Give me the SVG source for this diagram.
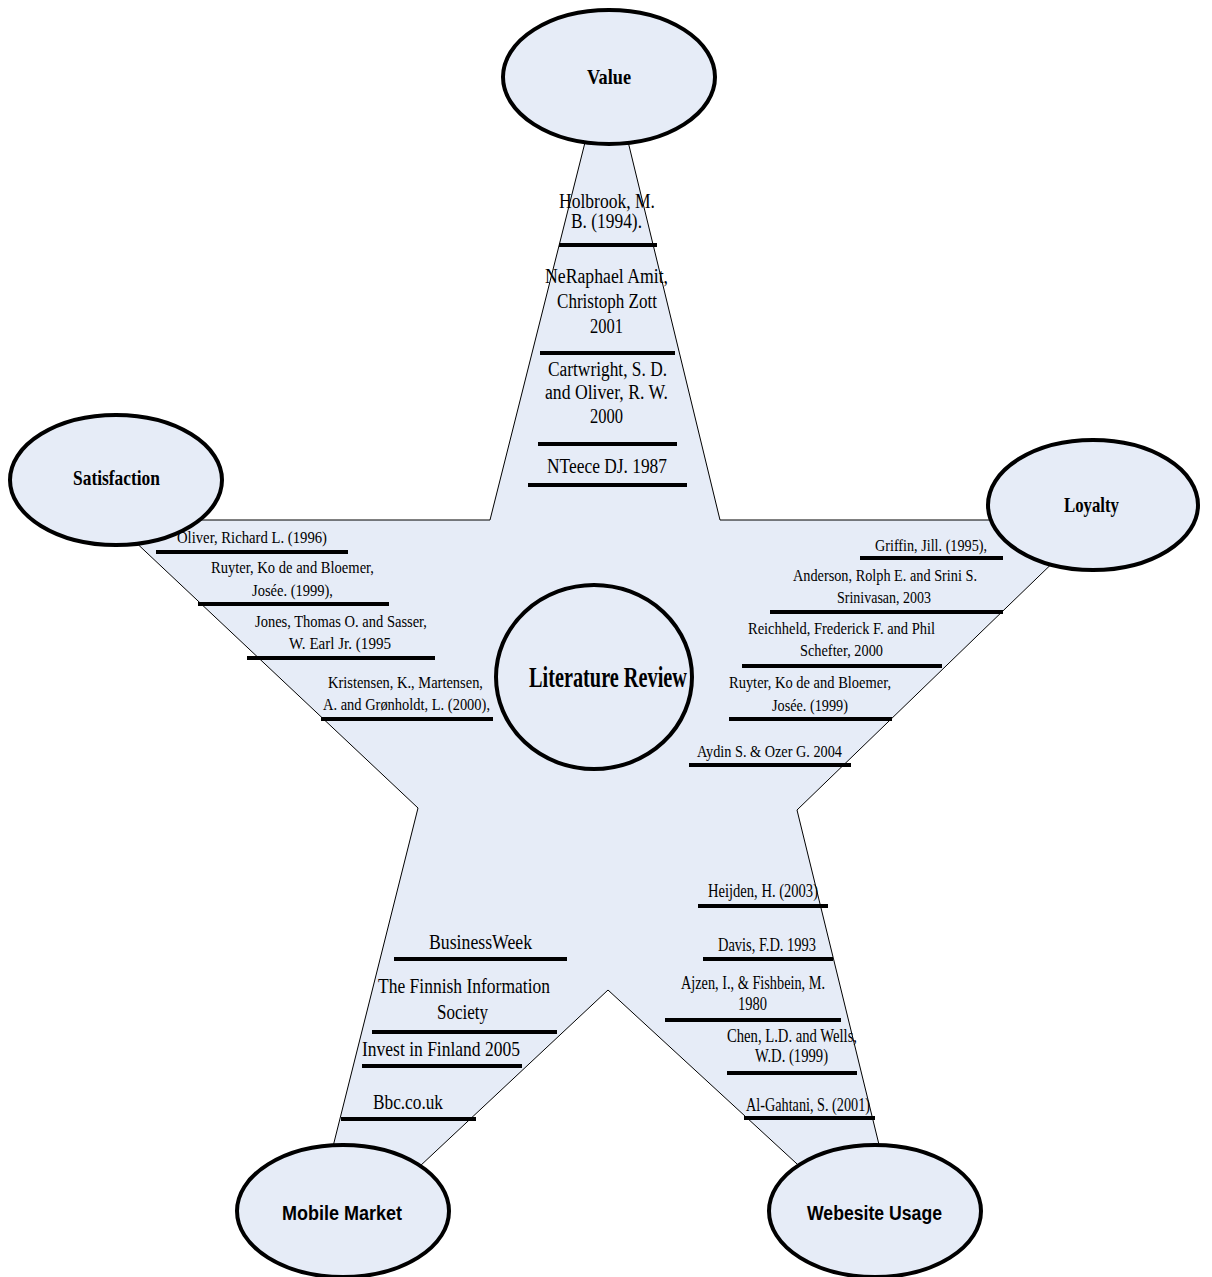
<svg xmlns="http://www.w3.org/2000/svg" width="1212" height="1277" viewBox="0 0 1212 1277">
<style>
.star{fill:#e6ecf7;stroke:#000;stroke-width:1}
.node{fill:#e6ecf7;stroke:#000;stroke-width:4}
.lbl{font-family:"Liberation Serif",serif;font-weight:bold;fill:#000}
.lbls{font-family:"Liberation Sans",Arial,sans-serif;font-weight:bold;fill:#000}
.c{font-family:"Liberation Serif",serif;fill:#000}
.bar{stroke:#000;stroke-width:4}
.t20{font-size:20px}
.t17{font-size:17px}
.t21{font-size:21px}
.t18{font-size:18px}
</style>
<rect width="1212" height="1277" fill="#fff"/>
<g id="star">
<polygon class="star" points="607,55 720,520 1097,520 797,810 909,1267 608,990 309,1270 302,1270 418,808 112,520 490,520"/>
</g>
<g id="connectors"></g>
<g id="refs-value">
<text class="c t20" x="559" y="208" textLength="96" lengthAdjust="spacingAndGlyphs">Holbrook, M.</text>
<text class="c t20" x="571" y="228" textLength="71" lengthAdjust="spacingAndGlyphs">B. (1994).</text>
<line class="bar" x1="559" y1="245" x2="657" y2="245"/>
<text class="c t20" x="545" y="283" textLength="123" lengthAdjust="spacingAndGlyphs">NeRaphael Amit,</text>
<text class="c t20" x="557" y="308" textLength="100" lengthAdjust="spacingAndGlyphs">Christoph Zott</text>
<text class="c t20" x="590" y="333" textLength="33" lengthAdjust="spacingAndGlyphs">2001</text>
<line class="bar" x1="540" y1="353" x2="675" y2="353"/>
<text class="c t20" x="548" y="376" textLength="119" lengthAdjust="spacingAndGlyphs">Cartwright, S. D.</text>
<text class="c t20" x="545" y="399" textLength="123" lengthAdjust="spacingAndGlyphs">and Oliver, R. W.</text>
<text class="c t20" x="590" y="423" textLength="33" lengthAdjust="spacingAndGlyphs">2000</text>
<line class="bar" x1="538" y1="444" x2="677" y2="444"/>
<text class="c t20" x="547" y="473" textLength="120" lengthAdjust="spacingAndGlyphs">NTeece DJ. 1987</text>
<line class="bar" x1="528" y1="485" x2="687" y2="485"/>
</g>
<g id="refs-satisfaction">
<text class="c t17" x="177" y="543" textLength="150" lengthAdjust="spacingAndGlyphs">Oliver, Richard L. (1996)</text>
<line class="bar" x1="156" y1="552" x2="348" y2="552"/>
<text class="c t17" x="211" y="573" textLength="163" lengthAdjust="spacingAndGlyphs">Ruyter, Ko de and Bloemer,</text>
<text class="c t17" x="252" y="596" textLength="81" lengthAdjust="spacingAndGlyphs">Josée. (1999),</text>
<line class="bar" x1="198" y1="604" x2="389" y2="604"/>
<text class="c t17" x="255" y="627" textLength="172" lengthAdjust="spacingAndGlyphs">Jones, Thomas O. and Sasser,</text>
<text class="c t17" x="289" y="649" textLength="102" lengthAdjust="spacingAndGlyphs">W. Earl Jr. (1995</text>
<line class="bar" x1="247" y1="658" x2="435" y2="658"/>
<text class="c t17" x="328" y="688" textLength="155" lengthAdjust="spacingAndGlyphs">Kristensen, K., Martensen,</text>
<text class="c t17" x="323" y="710" textLength="167" lengthAdjust="spacingAndGlyphs">A. and Grønholdt, L. (2000),</text>
<line class="bar" x1="321" y1="719" x2="493" y2="719"/>
</g>
<g id="refs-loyalty">
<text class="c t17" x="875" y="551" textLength="112" lengthAdjust="spacingAndGlyphs">Griffin, Jill. (1995),</text>
<line class="bar" x1="860" y1="558" x2="1003" y2="558"/>
<text class="c t17" x="793" y="581" textLength="184" lengthAdjust="spacingAndGlyphs">Anderson, Rolph E. and Srini S.</text>
<text class="c t17" x="837" y="603" textLength="94" lengthAdjust="spacingAndGlyphs">Srinivasan, 2003</text>
<line class="bar" x1="770" y1="612" x2="1003" y2="612"/>
<text class="c t17" x="748" y="634" textLength="187" lengthAdjust="spacingAndGlyphs">Reichheld, Frederick F. and Phil</text>
<text class="c t17" x="800" y="656" textLength="83" lengthAdjust="spacingAndGlyphs">Schefter, 2000</text>
<line class="bar" x1="742" y1="666" x2="942" y2="666"/>
<text class="c t17" x="729" y="688" textLength="162" lengthAdjust="spacingAndGlyphs">Ruyter, Ko de and Bloemer,</text>
<text class="c t17" x="772" y="711" textLength="76" lengthAdjust="spacingAndGlyphs">Josée. (1999)</text>
<line class="bar" x1="729" y1="719" x2="892" y2="719"/>
<text class="c t17" x="697" y="757" textLength="145" lengthAdjust="spacingAndGlyphs">Aydin S. &amp; Ozer G. 2004</text>
<line class="bar" x1="689" y1="765" x2="851" y2="765"/>
</g>
<g id="refs-mobile">
<text class="c t21" x="429" y="949" textLength="103" lengthAdjust="spacingAndGlyphs">BusinessWeek</text>
<line class="bar" x1="394" y1="959" x2="567" y2="959"/>
<text class="c t21" x="378" y="993" textLength="172" lengthAdjust="spacingAndGlyphs">The Finnish Information</text>
<text class="c t21" x="437" y="1019" textLength="51" lengthAdjust="spacingAndGlyphs">Society</text>
<line class="bar" x1="372" y1="1032" x2="557" y2="1032"/>
<text class="c t21" x="362" y="1056" textLength="158" lengthAdjust="spacingAndGlyphs">Invest in Finland 2005</text>
<line class="bar" x1="362" y1="1066" x2="522" y2="1066"/>
<text class="c t21" x="373" y="1109" textLength="70" lengthAdjust="spacingAndGlyphs" fill="#333">Bbc.co.uk</text>
<line class="bar" x1="341" y1="1119" x2="476" y2="1119"/>
</g>
<g id="refs-website">
<text class="c t18" x="708" y="897" textLength="110" lengthAdjust="spacingAndGlyphs">Heijden, H. (2003)</text>
<line class="bar" x1="698" y1="906" x2="828" y2="906"/>
<text class="c t18" x="718" y="951" textLength="98" lengthAdjust="spacingAndGlyphs">Davis, F.D. 1993</text>
<line class="bar" x1="703" y1="959" x2="833" y2="959"/>
<text class="c t18" x="681" y="989" textLength="144" lengthAdjust="spacingAndGlyphs">Ajzen, I., &amp; Fishbein, M.</text>
<text class="c t18" x="738" y="1010" textLength="29" lengthAdjust="spacingAndGlyphs">1980</text>
<line class="bar" x1="665" y1="1020" x2="841" y2="1020"/>
<text class="c t18" x="727" y="1042" textLength="130" lengthAdjust="spacingAndGlyphs">Chen, L.D. and Wells,</text>
<text class="c t18" x="755" y="1062" textLength="73" lengthAdjust="spacingAndGlyphs">W.D. (1999)</text>
<line class="bar" x1="727" y1="1073" x2="857" y2="1073"/>
<text class="c t18" x="746" y="1111" textLength="124" lengthAdjust="spacingAndGlyphs">Al-Gahtani, S. (2001)</text>
<line class="bar" x1="744" y1="1118" x2="875" y2="1118"/>
</g>
<g id="node-value">
<ellipse class="node" cx="609" cy="77" rx="106" ry="67"/>
<text class="lbl" x="587" y="84" font-size="22" textLength="44" lengthAdjust="spacingAndGlyphs">Value</text>
</g>
<g id="node-satisfaction">
<ellipse class="node" cx="116" cy="480" rx="106" ry="65"/>
<text class="lbl" x="73" y="485" font-size="22" textLength="87" lengthAdjust="spacingAndGlyphs">Satisfaction</text>
</g>
<g id="node-loyalty">
<ellipse class="node" cx="1093" cy="505" rx="105" ry="65"/>
<text class="lbl" x="1064" y="512" font-size="22" textLength="55" lengthAdjust="spacingAndGlyphs">Loyalty</text>
</g>
<g id="node-literature-review">
<ellipse class="node" cx="594" cy="677" rx="98" ry="92"/>
<text class="lbl" transform="translate(608,687) scale(0.7,1)" x="0" y="0" font-size="29" text-anchor="middle">Literature Review</text>
</g>
<g id="node-mobile-market">
<ellipse class="node" cx="343" cy="1211" rx="106" ry="66"/>
<text class="lbls" x="282" y="1220" font-size="20" textLength="120" lengthAdjust="spacingAndGlyphs">Mobile Market</text>
</g>
<g id="node-website-usage">
<ellipse class="node" cx="875" cy="1211" rx="106" ry="66"/>
<text class="lbls" x="807" y="1220" font-size="20" textLength="135" lengthAdjust="spacingAndGlyphs">Webesite Usage</text>
</g>
</svg>
